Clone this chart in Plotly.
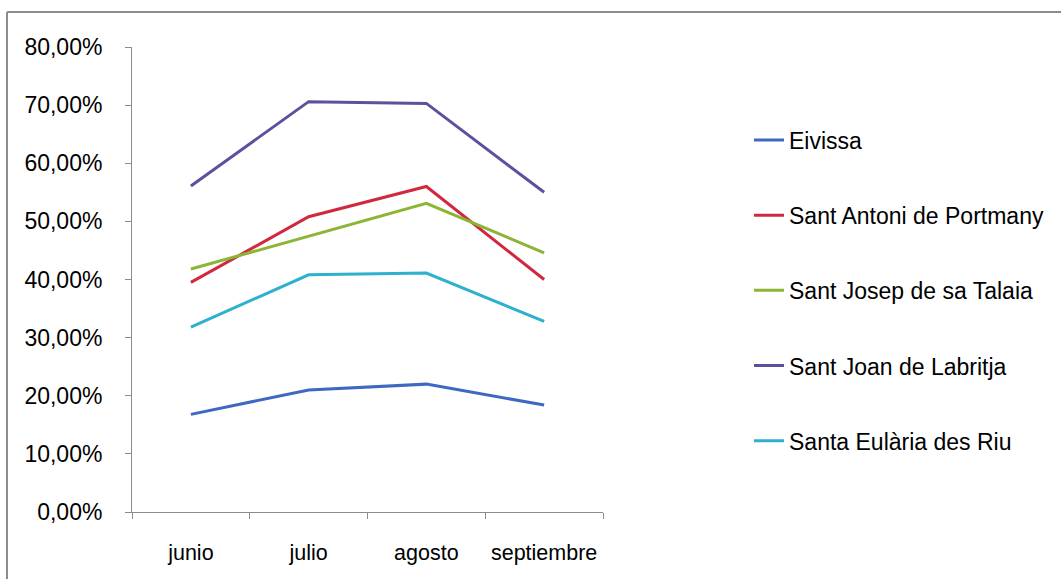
import plotly.graph_objects as go

# Months on the category axis
months = ["junio", "julio", "agosto", "septiembre"]

# Occupancy by municipality (%)
eivissa = [16.8, 21.0, 22.0, 18.4]
sant_antoni = [39.5, 50.8, 56.0, 40.0]
sant_josep = [41.8, 47.4, 53.1, 44.6]
sant_joan = [56.1, 70.6, 70.3, 55.0]
santa_eularia = [31.8, 40.8, 41.1, 32.8]

series_names = [
    "Eivissa",
    "Sant Antoni de Portmany",
    "Sant Josep de sa Talaia",
    "Sant Joan de Labritja",
    "Santa Eulària des Riu",
]
series_values = [eivissa, sant_antoni, sant_josep, sant_joan, santa_eularia]
series_colors = ["#3F68C2", "#D2283F", "#8CB536", "#5D519E", "#2DB1CF"]

y_ticks = [0, 10, 20, 30, 40, 50, 60, 70, 80]
y_ticktext = [f"{v:.2f}".replace(".", ",") + "%" for v in y_ticks]

W, H = 1061, 579
ml, mr, mt, mb = 132, 458, 47, 67
pw, ph = W - ml - mr, H - mt - mb

fig = go.Figure()
for i, (name, vals, col) in enumerate(zip(series_names, series_values, series_colors)):
    fig.add_trace(go.Scatter(
        x=months, y=vals, name=name, mode="lines",
        line=dict(color=col, width=3),
        legendgroup=f"g{i}",
    ))

font_family = "Liberation Sans, Arial, sans-serif"
frame = dict(color="#8C8C8C", width=2)

# outer frame: top and left edges
fx0 = (7 - ml) / pw
fy1 = 1 + (mt - 12) / ph
fig.add_shape(type="line", xref="paper", yref="paper",
              x0=fx0, x1=(W + 20 - ml) / pw, y0=fy1, y1=fy1, line=frame)
fig.add_shape(type="line", xref="paper", yref="paper",
              x0=fx0, x1=fx0, y0=-(mb + 20) / ph, y1=fy1, line=frame)

fig.update_layout(
    width=W, height=H,
    margin=dict(l=ml, r=mr, t=mt, b=mb, pad=0),
    paper_bgcolor="white", plot_bgcolor="white",
    font=dict(family=font_family, size=21, color="black"),
    showlegend=True,
    legend=dict(
        x=(749 - ml) / pw, xanchor="left",
        y=1 - (118.5 - mt) / ph, yanchor="top",
        traceorder="grouped", tracegroupgap=42.3,
        font=dict(family=font_family, size=23, color="black"),
        bgcolor="rgba(0,0,0,0)", borderwidth=0,
    ),
    xaxis=dict(
        type="category", range=[-0.5, 3.5],
        showline=True, linecolor="#8C8C8C", linewidth=1,
        ticks="outside", ticklen=6, tickcolor="#8C8C8C", tickson="boundaries",
        showgrid=False, zeroline=False,
        ticklabelstandoff=21,
        tickfont=dict(size=21.5),
    ),
    yaxis=dict(
        range=[0, 80], tickvals=y_ticks, ticktext=y_ticktext,
        showline=True, linecolor="#8C8C8C", linewidth=1,
        ticks="outside", ticklen=6, tickcolor="#8C8C8C",
        showgrid=False, zeroline=False,
        ticklabelstandoff=18,
        tickfont=dict(size=23),
    ),
)

fig.write_html("out.html")
